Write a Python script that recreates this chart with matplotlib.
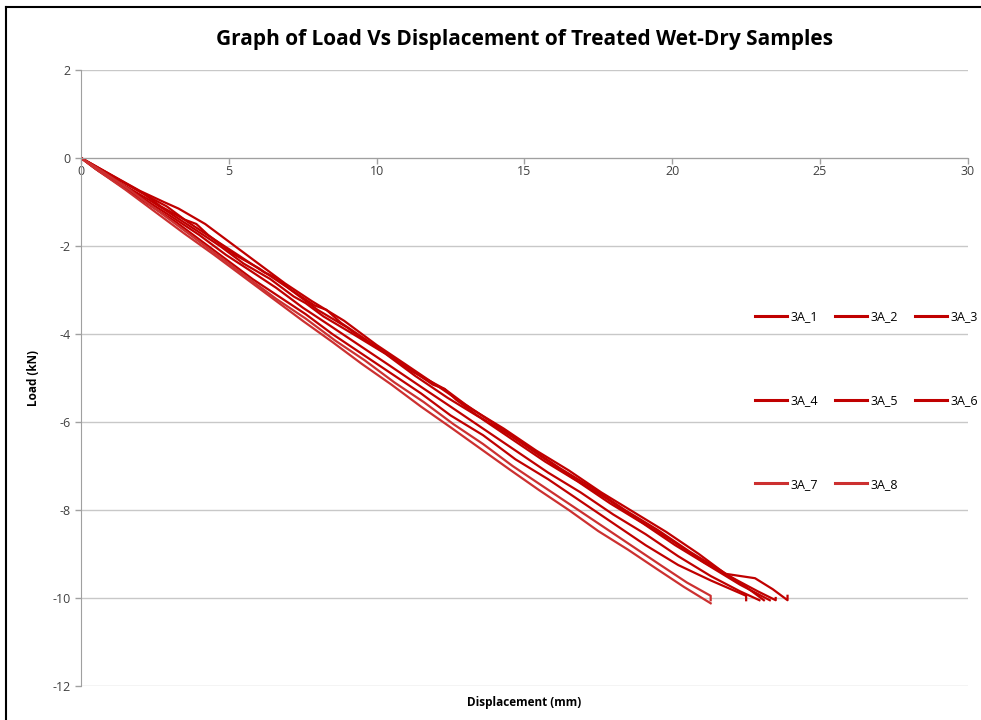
import matplotlib.pyplot as plt
from matplotlib.lines import Line2D

plt.rcParams['font.family'] = ['Open Sans', 'DejaVu Sans']
plt.rcParams['axes.unicode_minus'] = False

# Displacement (mm) / load (kN) per sample
x_3a1 = [0, 0.4, 1.2, 2.0, 2.8, 3.3, 4.2, 5.0, 5.8, 6.9, 7.8, 8.9, 10.0, 11.0, 12.1, 13.2,
         14.3, 15.4, 16.5, 17.6, 18.7, 19.8, 20.9, 21.8, 22.3, 22.8, 23.4, 23.9, 23.9]
y_3a1 = [0, -0.15, -0.45, -0.75, -1.0, -1.15, -1.5, -1.9, -2.3, -2.85, -3.25, -3.7, -4.25,
         -4.7, -5.2, -5.7, -6.15, -6.65, -7.1, -7.6, -8.05, -8.5, -9.0, -9.45, -9.5, -9.55,
         -9.8, -10.05, -9.95]

x_3a2 = [0, 0.5, 1.3, 2.2, 2.9, 3.3, 3.6, 4.5, 5.3, 6.2, 6.6, 7.1, 8.0, 9.0, 9.4, 10.1,
         11.2, 12.3, 12.7, 13.4, 14.5, 15.6, 16.7, 17.8, 18.9, 20.0, 21.1, 22.2, 22.9, 23.5,
         23.5]
y_3a2 = [0, -0.2, -0.5, -0.85, -1.1, -1.3, -1.45, -1.85, -2.2, -2.6, -2.72, -3.0, -3.45,
         -3.85, -4.05, -4.35, -4.85, -5.25, -5.5, -5.85, -6.3, -6.8, -7.3, -7.75, -8.25,
         -8.7, -9.2, -9.6, -9.85, -10.05, -10.0]

x_3a3 = [0, 0.6, 1.4, 2.3, 3.0, 3.8, 4.7, 5.5, 6.4, 7.2, 7.6, 8.2, 9.2, 10.3, 10.7, 11.3,
         12.4, 13.5, 14.6, 15.7, 16.8, 17.9, 19.0, 20.1, 21.2, 22.3, 23.3]
y_3a3 = [0, -0.25, -0.6, -0.95, -1.25, -1.6, -2.0, -2.4, -2.75, -3.15, -3.3, -3.6, -4.0,
         -4.45, -4.65, -4.95, -5.45, -5.9, -6.4, -6.9, -7.35, -7.85, -8.3, -8.8, -9.25,
         -9.7, -10.05]

x_3a4 = [0, 0.5, 1.5, 2.4, 3.1, 4.0, 4.9, 5.7, 6.6, 7.5, 8.4, 9.4, 10.4, 11.5, 12.5, 13.6,
         14.7, 15.8, 16.9, 18.0, 19.1, 20.2, 21.3, 22.3, 22.95]
y_3a4 = [0, -0.25, -0.65, -1.05, -1.35, -1.75, -2.2, -2.55, -2.95, -3.4, -3.8, -4.25, -4.7,
         -5.2, -5.65, -6.15, -6.65, -7.15, -7.6, -8.1, -8.55, -9.05, -9.5, -9.85, -10.05]

x_3a5 = [0, 0.6, 1.5, 2.5, 3.2, 4.1, 5.0, 5.8, 6.7, 7.6, 8.5, 9.5, 10.5, 11.5, 12.5, 13.6,
         14.7, 15.8, 16.9, 18.0, 19.1, 20.2, 21.3, 22.5, 22.5]
y_3a5 = [0, -0.3, -0.7, -1.15, -1.45, -1.9, -2.35, -2.75, -3.15, -3.55, -4.0, -4.45, -4.9,
         -5.35, -5.85, -6.3, -6.85, -7.3, -7.8, -8.3, -8.8, -9.25, -9.6, -9.95, -10.05]

x_3a6 = [0, 0.4, 1.3, 2.1, 2.7, 3.5, 3.9, 4.3, 5.2, 6.0, 7.0, 7.9, 8.3, 8.8, 9.8, 10.8,
         11.9, 12.3, 13.0, 14.0, 15.1, 16.2, 17.3, 18.4, 19.5, 20.6, 21.7, 22.5, 23.1]
y_3a6 = [0, -0.15, -0.5, -0.8, -1.1, -1.4, -1.5, -1.75, -2.2, -2.5, -2.95, -3.35, -3.45,
         -3.75, -4.2, -4.65, -5.15, -5.25, -5.6, -6.05, -6.55, -7.05, -7.5, -8.0, -8.45,
         -8.95, -9.4, -9.75, -10.05]

x_3a7 = [0, 0.6, 1.6, 2.6, 3.6, 4.6, 5.6, 6.6, 7.6, 8.6, 9.6, 10.6, 11.6, 12.6, 13.6, 14.6,
         15.6, 16.6, 17.6, 18.6, 19.6, 20.5, 21.3, 21.3]
y_3a7 = [0, -0.25, -0.7, -1.2, -1.7, -2.2, -2.7, -3.2, -3.65, -4.15, -4.6, -5.1, -5.55,
         -6.05, -6.5, -7.0, -7.45, -7.9, -8.35, -8.8, -9.25, -9.65, -9.95, -10.05]

x_3a8 = [0, 0.5, 1.5, 2.5, 3.5, 4.5, 5.5, 6.5, 7.5, 8.5, 9.5, 10.5, 11.5, 12.5, 13.5, 14.5,
         15.5, 16.5, 17.5, 18.5, 19.5, 20.4, 21.3]
y_3a8 = [0, -0.25, -0.72, -1.22, -1.72, -2.2, -2.7, -3.2, -3.7, -4.18, -4.68, -5.15, -5.65,
         -6.12, -6.6, -7.08, -7.55, -8.0, -8.48, -8.9, -9.35, -9.75, -10.12]

labels = ['3A_1', '3A_2', '3A_3', '3A_4', '3A_5', '3A_6', '3A_7', '3A_8']
xs = [x_3a1, x_3a2, x_3a3, x_3a4, x_3a5, x_3a6, x_3a7, x_3a8]
ys = [y_3a1, y_3a2, y_3a3, y_3a4, y_3a5, y_3a6, y_3a7, y_3a8]
colors = ['#C00000'] * 6 + ['#CC3030'] * 2

fig = plt.figure(figsize=(9.81, 7.2), dpi=100)
ax = fig.add_axes([0.0826, 0.0472, 0.904, 0.8556])

for x, y, c, lab in zip(xs, ys, colors, labels):
    ax.plot(x, y, color=c, lw=1.6, label=lab)

ax.set_xlim(0, 30)
ax.set_ylim(-12, 2)
ax.set_xticks(range(0, 31, 5))
ax.set_yticks(range(-12, 3, 2))
ax.grid(axis='y', color='#c8c8c8', lw=1)
ax.set_axisbelow(True)

for s in ['top', 'right']:
    ax.spines[s].set_visible(False)
ax.spines['bottom'].set_position(('data', 0))
ax.spines['bottom'].set_color('#a0a0a0')
ax.spines['left'].set_color('#a0a0a0')
ax.tick_params(axis='both', colors='#a0a0a0', labelcolor='#404040', labelsize=9,
               length=4, width=1, direction='out')
ax.tick_params(axis='x', pad=1)

ax.set_title('Graph of Load Vs Displacement of Treated Wet-Dry Samples',
             fontsize=15, fontweight='bold', pad=18)
ax.set_xlabel('Displacement (mm)', fontsize=8.5, fontweight='bold')
ax.set_ylabel('Load (kN)', fontsize=8.5, fontweight='bold')
ax.xaxis.set_label_coords(0.5, -0.016)
ax.yaxis.set_label_coords(-0.046, 0.5)

# legend fills column by column, so order entries to read row by row
order = [0, 3, 6, 1, 4, 7, 2, 5]
handles = [Line2D([], [], color=colors[i], lw=2.2) for i in order]
ax.legend(handles, [labels[i] for i in order], ncol=3, frameon=False, fontsize=9,
          loc='upper left', bbox_to_anchor=(0.747, 0.628),
          handlelength=2.6, handletextpad=0.25, columnspacing=1.35,
          labelspacing=5.65)

# chart border (left and top edges visible in the reference)
fig.add_artist(Line2D([0.006, 0.006], [0, 0.99], color='black', lw=1.5,
                      transform=fig.transFigure))
fig.add_artist(Line2D([0.006, 1.0], [0.99, 0.99], color='black', lw=1.5,
                      transform=fig.transFigure))

fig.savefig('out.png', dpi=100)
